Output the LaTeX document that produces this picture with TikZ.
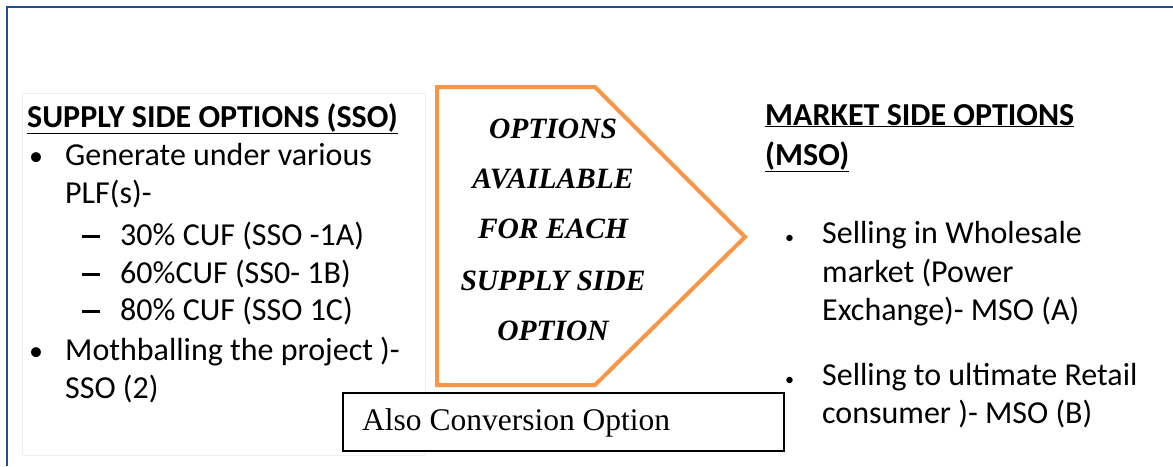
\documentclass[tikz,border=0pt]{standalone}
\usepackage{fontspec}
\setmainfont{Carlito}
\newfontfamily\timesfont{Liberation Serif}
\usetikzlibrary{positioning}

\definecolor{frameblue}{RGB}{35,80,140}
\definecolor{optorange}{RGB}{247,150,70}

\tikzset{
  head/.style={anchor=base west, inner sep=0pt, font=\bfseries\fontsize{32}{38}\selectfont},
  item/.style={anchor=base west, inner sep=0pt, font=\fontsize{32}{38}\selectfont},
  bul/.style={anchor=base west, inner sep=0pt, font=\fontsize{28}{34}\selectfont},
  optline/.style={anchor=base, inner sep=0pt, font=\timesfont\bfseries\itshape\fontsize{29.5}{36}\selectfont},
}
\newcommand{\subdash}{\rule[7.5pt]{18pt}{2.2pt}}

\begin{document}
\begin{tikzpicture}[x=1pt,y=-1pt]
	\def\W{1173};
	\def\H{466};
	\useasboundingbox (0,0) rectangle (\W,\H);
	\fill[white] (0,0) rectangle (\W,\H);

	% frame
	\begin{scope}
		\draw[frameblue, line width=2pt] (7,\H) -- (7,7) -- (\W,7);
		\draw[black!6, line width=1pt] (22,93) rectangle (425,455);
	\end{scope}

	% supply side
	\begin{scope}
		\node[head] (sso) at (27,127) {\underline{SUPPLY SIDE OPTIONS (SSO)}};
		\node[bul] (sb1) at (29,165) {\textbullet};
		\node[item] (gen) at (65,165) {Generate under various};
		\node[item] (plf) at (65,203) {PLF(s)-};
		\node[item] (d1) at (82,245) {\subdash};
		\node[item] (cuf1) at (120,245) {30\% CUF (SSO -1A)};
		\node[item] (d2) at (82,283) {\subdash};
		\node[item] (cuf2) at (120,283) {60\%CUF (SS0- 1B)};
		\node[item] (d3) at (82,320) {\subdash};
		\node[item] (cuf3) at (120,320) {80\% CUF (SSO 1C)};
		\node[bul] (sb2) at (29,360) {\textbullet};
		\node[item] (moth) at (65,360) {Mothballing the project )-};
		\node[item] (sso2) at (65,398) {SSO (2)};
	\end{scope}

	% arrow
	\begin{scope}
		\draw[optorange, line width=4pt, line join=miter] (437,87) -- (595,87) -- (745,237) -- (595,385) -- (437,385) -- cycle;
		\node[optline] (o1) at (553,138) {OPTIONS};
		\node[optline] (o2) at (553,188) {AVAILABLE};
		\node[optline] (o3) at (553,238) {FOR EACH};
		\node[optline] (o4) at (553,290) {SUPPLY SIDE};
		\node[optline] (o5) at (553,340) {OPTION};
	\end{scope}

	% conversion
	\node[draw, fill=white, line width=1.5pt, anchor=north west, minimum width=441pt, minimum height=58pt, inner sep=0pt]
		(conv) at (342,392) {};
	\node[anchor=base west, inner sep=0pt, font=\timesfont\fontsize{31.5}{36}\selectfont]
		(convtext) at (362,430) {Also Conversion Option};

	% market side
	\begin{scope}
		\node[head] (mso) at (765,125) {\underline{MARKET SIDE OPTIONS}};
		\node[head] (msob) at (765,165) {\underline{(MSO)}};
		\node[bul, font=\fontsize{18}{22}\selectfont] (mb1) at (785,243) {\textbullet};
		\node[item] (wh1) at (822,243) {Selling in Wholesale};
		\node[item] (wh2) at (822,282) {market (Power};
		\node[item] (wh3) at (822,320) {Exchange)- MSO (A)};
		\node[bul, font=\fontsize{18}{22}\selectfont] (mb2) at (785,385) {\textbullet};
		\node[item] (re1) at (822,385) {Selling to ultimate Retail};
		\node[item] (re2) at (822,423) {consumer )- MSO (B)};
	\end{scope}
\end{tikzpicture}
\end{document}
